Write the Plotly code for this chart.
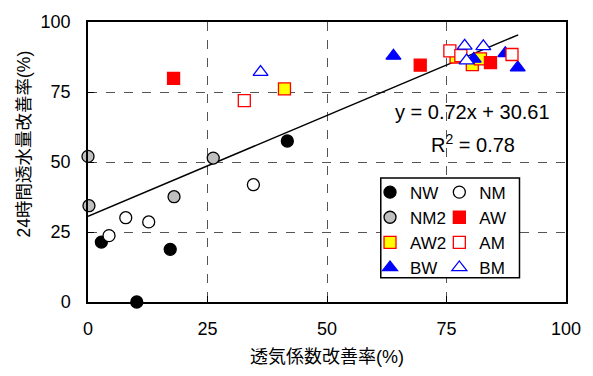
import plotly.graph_objects as go

# ---- data ----
nw_x = [2.8, 17.2, 10.2, 41.7]
nw_y = [21.4, 18.8, 0.0, 57.5]
nm_x = [4.4, 7.9, 12.7, 34.6]
nm_y = [23.7, 30.1, 28.6, 41.9]
nm2_x = [0.0, 0.2, 18.0, 26.2]
nm2_y = [52.0, 34.4, 37.6, 51.4]
aw_x = [17.9, 69.5, 84.2]
aw_y = [79.9, 84.6, 85.5]
aw2_x = [41.1, 77.0, 80.4, 82.1]
aw2_y = [76.1, 87.5, 84.8, 86.8]
am_x = [32.7, 75.7, 78.0, 88.7]
am_y = [71.9, 89.7, 88.0, 88.4]
bw_x = [63.9, 80.7, 87.3, 89.9]
bw_y = [87.9, 86.8, 88.8, 83.7]
bm_x = [36.1, 78.8, 82.7, 79.2]
bm_y = [82.1, 91.5, 91.3, 86.2]

slope = 0.72
intercept = 30.61
r2 = 0.78
trend_x = [0, 90]
trend_y = [slope * v + intercept for v in trend_x]

tick_vals = [0, 25, 50, 75, 100]
x_title = "透気係数改善率(%)"
y_title = "24時間透水量改善率(%)"

FONT = "Liberation Sans, Arial, Noto Sans CJK JP, sans-serif"

fig = go.Figure()

fig.add_trace(go.Scatter(x=trend_x, y=trend_y, mode="lines",
                         line=dict(color="black", width=1.5),
                         showlegend=False, hoverinfo="skip"))

def add(x, y, name, symbol, fill, line, size, legend):
    fig.add_trace(go.Scatter(
        x=x, y=y, mode="markers", name=name, legend=legend,
        marker=dict(symbol=symbol, size=size, color=fill,
                    line=dict(color=line, width=1.3)),
        cliponaxis=False))

add(nw_x, nw_y, "NW", "circle", "black", "black", 12, "legend")
add(nm2_x, nm2_y, "NM2", "circle", "#BFBFBF", "black", 12, "legend")
add(aw2_x, aw2_y, "AW2", "square", "#FFFF00", "#FF0000", 12, "legend")
add(bw_x, bw_y, "BW", "triangle-up", "#0000FF", "#0000FF", 13, "legend")
add(nm_x, nm_y, "NM", "circle", "white", "black", 12, "legend2")
add(aw_x, aw_y, "AW", "square", "#FF0000", "#FF0000", 12, "legend2")
add(am_x, am_y, "AM", "square", "white", "#FF0000", 12, "legend2")
add(bm_x, bm_y, "BM", "triangle-up", "white", "#0000FF", 13, "legend2")

axis_common = dict(
    range=[0, 100], tickvals=tick_vals, showline=True, mirror=True,
    linecolor="black", linewidth=1.5, ticks="inside", ticklen=6,
    tickcolor="black", tickwidth=1, showgrid=True, gridcolor="#555555",
    griddash="dash", gridwidth=1, zeroline=False,
    tickfont=dict(family=FONT, size=18, color="black"),
)

LEG_FONT = dict(family=FONT, size=17, color="black")

fig.update_layout(
    width=593, height=376,
    margin=dict(l=88, r=26, t=17, b=71),
    paper_bgcolor="white", plot_bgcolor="white",
    font=dict(family=FONT, size=18, color="black"),
    xaxis=dict(**axis_common, ticklabelstandoff=10,
               title=dict(text=x_title, font=dict(family=FONT, size=18, color="black"),
                          standoff=12)),
    yaxis=dict(**axis_common, ticklabelstandoff=12),
    legend=dict(x=0.59, y=0.455, xanchor="left", yanchor="top",
                bgcolor="rgba(0,0,0,0)", borderwidth=0, tracegroupgap=0,
                font=LEG_FONT, itemwidth=30),
    legend2=dict(x=0.735, y=0.455, xanchor="left", yanchor="top",
                 bgcolor="rgba(0,0,0,0)", borderwidth=0, tracegroupgap=0,
                 font=LEG_FONT, itemwidth=30),
    shapes=[dict(type="rect", xref="paper", yref="paper",
                 x0=0.6125, x1=0.9027, y0=0.0867, y1=0.443,
                 fillcolor="white", line=dict(color="black", width=1.5),
                 layer="above")],
    annotations=[
        dict(x=80.5, y=67.9, xref="x", yref="y", showarrow=False,
             text=f"y = {slope:.2f}x + {intercept:.2f}",
             font=dict(family=FONT, size=20, color="black")),
        dict(x=80.5, y=56.6, xref="x", yref="y", showarrow=False,
             text=f"R<sup>2</sup> = {r2:.2f}",
             font=dict(family=FONT, size=20, color="black")),
        dict(x=-0.134, y=0.566, xref="paper", yref="paper", showarrow=False,
             xanchor="center", yanchor="middle", textangle=-90,
             text=y_title,
             font=dict(family=FONT, size=17.5, color="black")),
    ],
)

fig.write_html("out.html")
